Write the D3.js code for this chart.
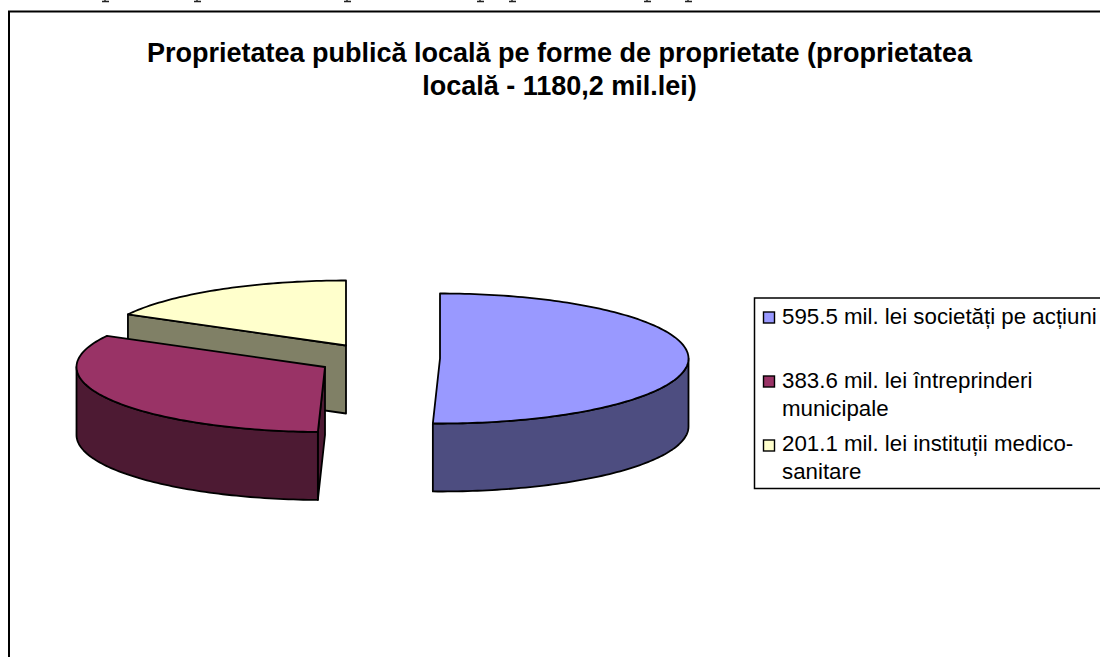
<!DOCTYPE html>
<html>
<head>
<meta charset="utf-8">
<script src="https://cdnjs.cloudflare.com/ajax/libs/d3/7.8.5/d3.min.js"></script>
<style>
html,body{margin:0;padding:0;background:#fff;overflow:hidden}
svg{display:block}
text{font-family:"Liberation Sans",Arial,sans-serif;fill:#000}
</style>
</head>
<body>
<svg id="c" width="1100" height="657"></svg>
<script>
// ---- data ----
const titleLines = ["Proprietatea publică locală pe forme de proprietate (proprietatea", "locală - 1180,2 mil.lei)"];
const sliceValues = [595.5, 383.6, 201.1];
const sliceColors = ["#9999ff", "#993366", "#ffffcc"];
const legendLines = [["595.5 mil. lei societăți pe acțiuni"], ["383.6 mil. lei întreprinderi", "municipale"], ["201.1 mil. lei instituții medico-", "sanitare"]];

// ---- layout ----
const svg = d3.select("#c");
const W = 1100, H = 657;
const rx = 248.5, ry = 65, depth = 68;
const apex = [[440, 358.5], [325, 367], [346, 345.5]];   // exploded slice centres
const legendBaselines = [[324], [388, 416], [451, 479]];
const swatchTops = [312, 376, 440];
const cutGlyphs = [105, 197, 347, 480, 512, 647, 688];   // descenders of the cropped text line above

const shade = c => { const k = d3.rgb(c); return d3.rgb(k.r / 2, k.g / 2, k.b / 2).formatHex(); };
const pie = d3.pie().sort(null).startAngle(0).endAngle(2 * Math.PI);
const arcs = pie(sliceValues);
const line = d3.line();

// cut-off text line above the chart frame
svg.append("g").selectAll("path").data(cutGlyphs).join("path")
  .attr("d", x => line([[x - 3, 1.5], [x + 4, 1.5]]) + line([[x, 0], [x, 1.5]]))
  .attr("stroke", "#222").attr("stroke-width", 1.4).attr("fill", "none");

// chart frame (runs past the right and bottom of the photograph)
svg.append("path")
  .attr("d", line([[9, H + 5], [9, 11.5], [W + 5, 11.5]]))
  .attr("fill", "none").attr("stroke", "#000").attr("stroke-width", 2);

// title
svg.append("g").selectAll("text").data(titleLines).join("text")
  .attr("x", 559.5).attr("y", (d, i) => 62 + i * 33)
  .attr("text-anchor", "middle").attr("font-weight", "bold").attr("font-size", 27)
  .text(d => d);

// 3D pie, back slice first
const order = [2, 1, 0];
const pieG = svg.append("g").attr("stroke", "#000").attr("stroke-width", 1.8).attr("stroke-linejoin", "round");
order.forEach(i => {
  const a = arcs[i], [cx, cy] = apex[i], col = sliceColors[i], dark = shade(col);
  const P = (ang, dz = 0) => [cx + rx * Math.sin(ang), cy - ry * Math.cos(ang) + dz];
  const sweep = (a0, a1, dz = 0) => {
    const n = Math.max(2, Math.ceil((a1 - a0) / 0.02));
    return d3.range(n + 1).map(k => P(a0 + (a1 - a0) * k / n, dz));
  };
  // cut faces
  const cutFace = ang => [[cx, cy], P(ang), P(ang, depth), [cx, cy + depth]];
  if (i === 2 || i === 1) pieG.append("path").attr("d", line(cutFace(a.startAngle)) + "Z").attr("fill", dark);
  // outer wall (front half only)
  const w0 = Math.max(a.startAngle, Math.PI / 2), w1 = Math.min(a.endAngle, 3 * Math.PI / 2);
  if (w1 > w0) {
    pieG.append("path")
      .attr("d", line(sweep(w0, w1).concat(sweep(w0, w1, depth).reverse())) + "Z")
      .attr("fill", dark);
  }
  // top face
  pieG.append("path")
    .attr("d", line([[cx, cy]].concat(sweep(a.startAngle, a.endAngle))) + "Z")
    .attr("fill", col);
});

// legend box (open past the right edge)
svg.append("path")
  .attr("d", line([[W + 5, 298], [754.5, 298], [754.5, 488.5], [W + 5, 488.5]]))
  .attr("fill", "#fff").attr("stroke", "#000").attr("stroke-width", 1.5);

const lg = svg.append("g").selectAll("g").data(legendLines).join("g");
lg.append("rect")
  .attr("x", 763.5).attr("y", (d, i) => swatchTops[i])
  .attr("width", 11).attr("height", 11)
  .attr("fill", (d, i) => sliceColors[i]).attr("stroke", "#000").attr("stroke-width", 1.4);
lg.each(function (lines, i) {
  d3.select(this).selectAll("text").data(lines).join("text")
    .attr("x", 782).attr("y", (d, j) => legendBaselines[i][j])
    .attr("font-size", 22.3).text(d => d);
});
</script>
</body>
</html>
